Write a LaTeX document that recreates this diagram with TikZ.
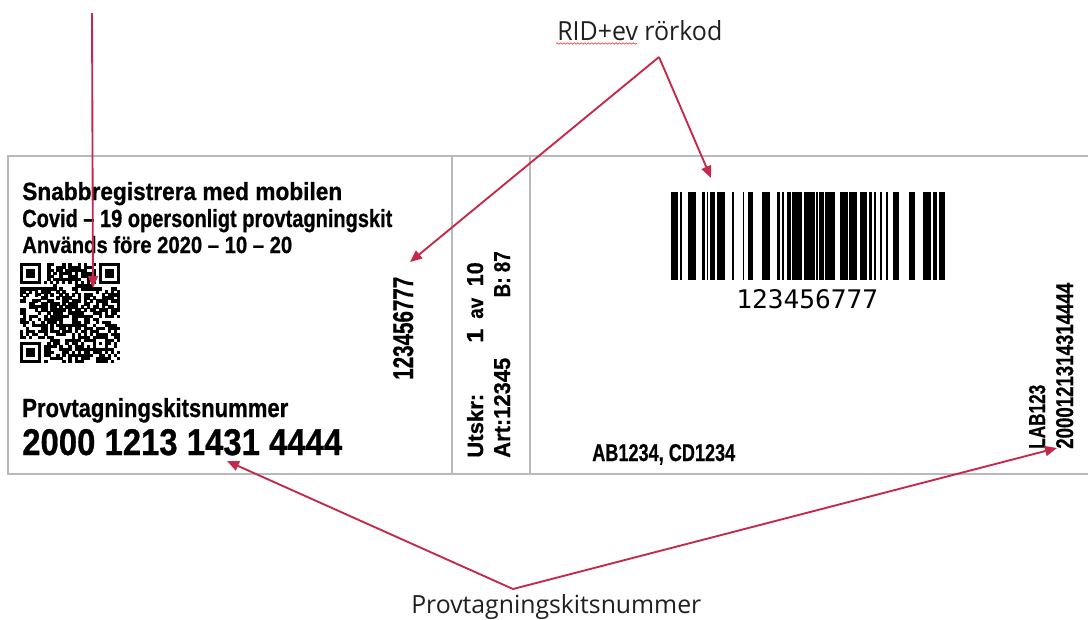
\documentclass[tikz,border=0pt]{standalone}
\usepackage{fontspec}
\usepackage{graphicx}
\usetikzlibrary{arrows.meta,decorations.pathmorphing}
\newfontfamily\lblfont{Liberation Sans Bold}[FakeBold=0.8]
\newfontfamily\annfont{Open Sans}
\newfontfamily\bcmono{DejaVu Sans Mono}
\newdimen\pxu \pxu=0.75pt
\newcommand\fitbox[3]{\resizebox{#1\pxu}{#2\pxu}{#3}}
\definecolor{arr}{RGB}{197,40,72}
\definecolor{brd}{RGB}{185,185,185}
\tikzset{
  lbl/.style={inner sep=0pt, anchor=base west, font=\lblfont},
  rlbl/.style={lbl, rotate=90},
  ann/.style={inner sep=0pt, anchor=base west, font=\annfont, text=black!88},
  callout/.style={draw=arr, line width=1.4pt, -{Triangle[length=9pt,width=7.5pt]}},
  frameline/.style={draw=brd, line width=1.4pt}
}
\begin{document}
\begin{tikzpicture}[x=0.75pt,y=-0.75pt]
\useasboundingbox (0,0) rectangle (1088,619);
% label frame
\draw[frameline] (1088,156) -- (8,156) -- (8,474) -- (1088,474);
\draw[frameline] (452,156) -- (452,474);
\draw[frameline] (530,156) -- (530,474);

% left section texts
\node[lbl] (t1) at (22,200) {\fitbox{320}{18}{Snabbregistrera med mobilen}};
\node[lbl] (t2) at (22,227) {\fitbox{370}{18}{Covid – 19 opersonligt provtagningskit}};
\node[lbl] (t3) at (22,253) {\fitbox{270}{17}{Används före 2020 – 10 – 20}};
\node[lbl] (t4) at (22,417) {\fitbox{266}{19}{Provtagningskitsnummer}};
\node[lbl] (t5) at (22,455) {\fitbox{320}{26}{2000 1213 1431 4444}};
\node[rlbl] (rid1) at (413,380) {\fitbox{103}{20}{123456777}};

% QR code (33 modules)
\def\qm{3.03}
\pgfmathsetseed{4242}
\foreach \r in {0,...,32}{
  \foreach \c in {0,...,32}{
    \pgfmathtruncatemacro\res{((\r<8)&&(\c<8)) || ((\r<8)&&(\c>24)) || ((\r>24)&&(\c<8)) || (\r==6) || (\c==6) || ((\r>23)&&(\r<29)&&(\c>23)&&(\c<29))}
    \ifnum\res=0
      \pgfmathrandominteger{\bit}{0}{99}
      \ifnum\bit<56
        \fill (20+\c*\qm,263+\r*\qm) rectangle ++(\qm+0.3,\qm+0.3);
      \fi
    \fi
  }
}
\foreach \fr/\fc in {0/0,0/26,26/0}{
  \fill (20+\fc*\qm,263+\fr*\qm) rectangle ++(7*\qm,7*\qm);
  \fill[white] (20+\fc*\qm+\qm,263+\fr*\qm+\qm) rectangle ++(5*\qm,5*\qm);
  \fill (20+\fc*\qm+2*\qm,263+\fr*\qm+2*\qm) rectangle ++(3*\qm,3*\qm);
}
\foreach \k in {8,10,...,24}{
  \fill (20+\k*\qm,263+6*\qm) rectangle ++(\qm,\qm);
  \fill (20+6*\qm,263+\k*\qm) rectangle ++(\qm,\qm);
}
\fill (20+24*\qm,263+24*\qm) rectangle ++(5*\qm,5*\qm);
\fill[white] (20+25*\qm,263+25*\qm) rectangle ++(3*\qm,3*\qm);
\fill (20+26*\qm,263+26*\qm) rectangle ++(\qm,\qm);

% middle section
\node[rlbl] (utskr) at (483,458) {\fitbox{64}{16}{Utskr:}};
\node[rlbl] (one) at (483,343) {\fitbox{14}{16}{1}};
\node[rlbl] (av) at (483,319) {\fitbox{21}{11.6}{av}};
\node[rlbl, anchor=base east] (ten) at (483,262) {\fitbox{24}{16}{10}};
\node[rlbl] (art) at (510,458) {\fitbox{100}{16}{Art:12345}};
\node[rlbl, anchor=base east] (bnum) at (510,251) {\fitbox{46}{16}{B: 87}};

% barcode
\foreach \a/\b in {671.3/677.7, 679.5/682.3, 687.7/695.8, 702.2/704.7, 706.5/707.9,
  709.7/714.7, 717.2/725.0, 732.1/734.3, 742.5/744.2, 747.8/752.8, 761.7/769.5,
  777.3/780.2, 782.3/784.1, 786.9/790.9, 792.3/801.5, 804.4/814.7, 815.8/817.5,
  819/824, 825.4/835.3, 839.6/847.8, 849.2/856.7, 859.9/867.4, 868.8/871.6,
  873.8/876.3, 879.8/882.3, 885.9/888.0, 893/898.7, 909.4/915.4, 922.5/931.1,
  933.2/936.8, 938.5/944.6}{
  \fill (\a,192) rectangle (\b,280);
}
\node[inner sep=0pt, anchor=base west, font=\bcmono] (bctext) at (736,308) {\fitbox{142}{19}{123456777}};

% right section texts
\node[lbl] (abcd) at (592,461) {\fitbox{143}{17}{AB1234, CD1234}};
\node[rlbl] (lab) at (1045,449) {\fitbox{64}{16}{LAB123}};
\node[rlbl] (kitnr) at (1073,449) {\fitbox{166}{17}{2000121314314444}};

% annotations
\node[ann] (ridlabel) at (557,40) {\fitbox{165}{20}{RID+ev rörkod}};
\draw[red!75, line width=0.5pt, decorate, decoration={snake, amplitude=0.55pt, segment length=2.6pt}] (556,43.5) -- (637,43.5);
\node[ann] (pklabel) at (411,613) {\fitbox{290}{19}{Provtagningskitsnummer}};

\coordinate (qrtop) at (92,13);
\coordinate (qrtip) at (93,288);
\coordinate (ridapex) at (659,57);
\coordinate (ridtipA) at (410,262);
\coordinate (ridtipB) at (711,178);
\coordinate (pkapex) at (513,589);
\coordinate (pktipA) at (227,461);
\coordinate (pktipB) at (1057,448);

\draw[callout] (qrtop) -- (qrtip);
\draw[callout] (ridapex) -- (ridtipA);
\draw[callout] (ridapex) -- (ridtipB);
\draw[callout] (pkapex) -- (pktipA);
\draw[callout] (pkapex) -- (pktipB);
\end{tikzpicture}
\end{document}
